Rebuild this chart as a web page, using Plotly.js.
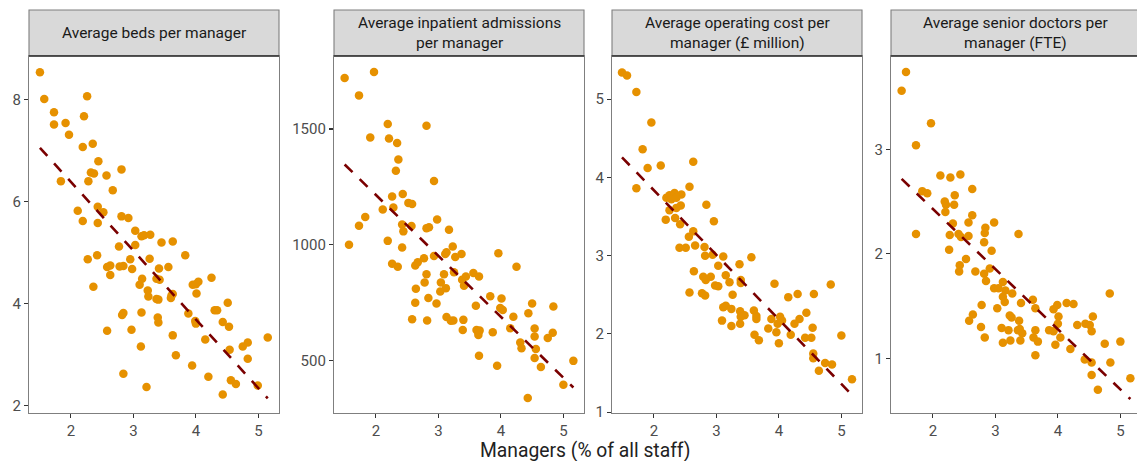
<!DOCTYPE html>
<html>
<head>
<meta charset="utf-8">
<script src="https://cdn.plot.ly/plotly-3.0.1.min.js"></script>
<style>
  html, body { margin: 0; padding: 0; overflow: hidden; background: #fff; }
  #chart { width: 1146px; height: 461px; }
</style>
</head>
<body>
<div id="chart"></div>
<script>
// ---------- Data ----------
const panelTitles = [
  "Average beds per manager",
  "Average inpatient admissions<br>per manager",
  "Average operating cost per<br>manager (£ million)",
  "Average senior doctors per<br>manager (FTE)"
];
const xTitle = "Managers (% of all staff)";
const xTicks = [2, 3, 4, 5];
const bedsTicks = [2, 4, 6, 8];
const admissionsTicks = [500, 1000, 1500];
const costTicks = [1, 2, 3, 4, 5];
const doctorsTicks = [1, 2, 3];

// Panel 1: average beds per manager
const bedsX = [1.505,1.574,1.73,1.73,1.915,1.97,2.26,2.21,2.19,2.35,2.44,2.32,2.37,2.57,1.84,2.28,2.81,2.67,2.11,2.19,
  2.43,2.52,2.43,2.81,2.92,3.03,3.13,3.17,3.27,3.45,3.63,2.77,3.03,3.83,2.27,2.42,2.58,2.63,2.78,2.84,
  2.95,2.98,2.63,3.26,3.41,3.56,3.14,3.10,3.37,3.42,3.23,3.24,3.37,3.40,3.61,3.63,3.60,2.36,4.00,4.04,
  4.01,4.25,3.95,4.51,4.30,4.34,2.84,2.82,3.13,3.39,3.40,3.88,3.99,4.00,4.43,4.53,2.58,2.97,3.63,4.15,
  5.15,4.83,4.75,3.12,4.54,3.68,4.83,3.94,2.84,4.20,4.56,4.64,4.99,3.21,4.43];
const bedsY = [8.53,8.01,7.75,7.51,7.54,7.31,8.06,7.67,7.07,7.13,6.79,6.57,6.55,6.51,6.40,6.40,6.63,6.22,5.82,5.62,
  5.90,5.79,5.58,5.71,5.68,5.43,5.32,5.34,5.35,5.20,5.22,5.12,5.15,4.95,4.87,4.95,4.72,4.75,4.73,4.74,
  4.87,4.68,4.56,4.88,4.69,4.72,4.49,4.37,4.49,4.47,4.26,4.14,4.09,4.08,4.16,4.19,4.11,4.33,4.38,4.43,
  4.20,4.51,4.37,4.02,3.87,3.87,3.82,3.78,3.83,3.73,3.63,3.81,3.66,3.61,3.64,3.55,3.47,3.49,3.38,3.30,
  3.34,3.24,3.16,3.16,3.10,2.99,2.92,2.79,2.63,2.57,2.50,2.43,2.40,2.37,2.22];

// Panel 2: average inpatient admissions per manager
const admissionsX = [1.50,1.97,1.73,2.19,2.81,1.91,2.21,2.34,2.36,2.32,2.93,2.26,2.43,2.52,2.58,2.11,2.28,1.83,1.73,2.98,
  2.42,2.57,2.81,2.85,3.17,2.44,1.57,2.19,2.42,2.26,2.35,2.63,2.67,2.77,2.93,3.11,3.13,3.23,3.27,3.37,
  3.96,4.25,2.81,3.09,3.25,3.38,3.44,3.56,3.65,3.41,2.78,3.04,3.12,3.03,2.64,2.84,2.63,2.97,3.83,4.01,
  3.60,3.99,4.03,4.50,4.84,4.44,4.20,2.58,2.82,3.13,3.20,3.24,3.40,3.39,3.61,3.64,3.66,3.64,3.87,4.15,
  4.54,4.54,4.83,4.75,4.31,4.33,4.56,4.54,4.64,3.65,3.94,5.00,5.16,4.43];
const admissionsY = [1720,1746,1645,1521,1514,1463,1459,1439,1368,1320,1275,1209,1219,1181,1176,1152,1161,1120,1082,1109,
  1088,1081,1072,1076,1065,1058,1000,1017,988,918,905,911,925,942,952,960,968,993,947,960,
  964,905,873,873,882,849,863,878,863,823,837,837,813,798,810,770,750,747,778,768,
  737,727,719,747,734,705,689,679,673,688,672,673,676,632,632,622,630,611,623,640,
  639,604,620,598,578,554,550,511,473,521,478,396,499,339];

// Panel 3: average operating cost per manager (£ million)
const costX = [1.49,1.57,1.72,1.96,1.82,1.90,2.11,2.63,1.72,2.57,2.20,2.25,2.33,2.44,2.28,2.36,2.84,2.43,2.25,2.36,
  2.19,2.34,2.96,2.42,2.63,2.56,2.41,2.51,2.66,2.81,2.82,2.94,3.11,3.37,3.56,3.03,2.64,3.15,2.79,2.91,
  2.83,3.21,3.39,3.39,2.98,3.03,3.93,4.83,2.57,2.77,2.82,3.26,4.15,4.30,4.56,3.11,3.15,3.24,3.38,3.60,
  3.45,3.39,3.64,3.64,3.09,3.38,3.24,3.88,4.02,4.05,3.98,4.33,4.25,4.44,4.54,3.83,3.96,3.61,3.68,4.19,
  4.42,4.52,5.00,4.00,4.55,4.55,4.74,4.85,4.64,5.17];
const costY = [5.34,5.30,5.09,4.70,4.36,4.12,4.15,4.20,3.86,3.88,3.74,3.77,3.80,3.78,3.72,3.74,3.65,3.64,3.58,3.61,
  3.46,3.48,3.44,3.40,3.31,3.24,3.10,3.10,3.13,3.11,3.00,3.01,2.99,2.89,2.98,2.87,2.80,2.75,2.73,2.73,
  2.69,2.66,2.69,2.65,2.62,2.61,2.64,2.63,2.53,2.52,2.49,2.50,2.47,2.51,2.51,2.34,2.36,2.32,2.29,2.30,
  2.24,2.22,2.23,2.19,2.17,2.13,2.10,2.19,2.22,2.17,2.13,2.19,2.13,2.27,2.08,2.07,2.02,1.99,1.92,1.99,
  1.95,1.95,1.98,1.88,1.75,1.69,1.63,1.61,1.53,1.42];

// Panel 4: average senior doctors per manager (FTE)
const doctorsX = [1.57,1.50,1.97,1.73,2.12,2.28,2.44,1.83,1.91,2.63,2.35,2.19,2.21,2.34,2.20,2.63,2.32,2.57,2.98,2.84,
  1.73,2.27,2.41,2.45,2.57,2.83,3.37,2.82,2.26,2.94,2.53,2.43,2.42,2.68,2.91,2.82,2.85,3.12,2.98,3.05,
  3.16,3.27,3.12,3.15,3.41,3.60,3.64,2.78,3.03,3.99,3.93,4.14,4.25,4.01,2.64,2.58,3.23,3.26,3.38,4.00,
  4.56,4.31,4.44,4.51,4.54,2.77,3.10,3.21,3.36,3.39,3.43,3.64,3.86,3.93,3.61,3.68,2.83,3.12,3.24,3.40,
  4.04,3.96,4.20,3.64,4.43,4.54,4.84,4.75,5.00,4.83,4.54,4.64,5.16];
const doctorsY = [3.74,3.56,3.25,3.04,2.75,2.73,2.76,2.60,2.58,2.62,2.56,2.50,2.47,2.47,2.40,2.37,2.29,2.30,2.30,2.25,
  2.19,2.18,2.19,2.16,2.17,2.20,2.19,2.11,2.04,2.03,1.95,1.89,1.83,1.83,1.86,1.81,1.74,1.73,1.67,1.67,
  1.65,1.62,1.59,1.54,1.53,1.56,1.48,1.51,1.48,1.51,1.47,1.53,1.52,1.40,1.42,1.36,1.41,1.39,1.36,1.33,
  1.40,1.32,1.33,1.32,1.26,1.30,1.29,1.27,1.27,1.28,1.24,1.27,1.27,1.26,1.20,1.16,1.20,1.15,1.17,1.17,
  1.20,1.13,1.09,1.03,0.99,0.96,0.96,1.14,1.16,1.62,0.84,0.70,0.81];

// ---------- Layout geometry ----------
const W = 1146, H = 461;
const M = {l: 29, r: 5, t: 10, b: 48};
const plotW = W - M.l - M.r, plotH = H - M.t - M.b;
const panelPx = [[29, 279], [334, 584], [612, 862], [891, 1141]];
const panelTopPx = 56, panelBottomPx = 413;
const yTop = (panelBottomPx - panelTopPx) / plotH;   // paper y of panel top / strip bottom
const xRange = [1.33, 5.33];
const yRanges = [[1.86, 8.85], [274, 1815], [0.99, 5.55], [0.477, 3.893]];

const series = [
  {x: bedsX, y: bedsY, ticks: bedsTicks},
  {x: admissionsX, y: admissionsY, ticks: admissionsTicks},
  {x: costX, y: costY, ticks: costTicks},
  {x: doctorsX, y: doctorsY, ticks: doctorsTicks}
];

function linearFit(xs, ys) {
  const n = xs.length;
  let sx = 0, sy = 0;
  for (let i = 0; i < n; i++) { sx += xs[i]; sy += ys[i]; }
  const mx = sx / n, my = sy / n;
  let sxy = 0, sxx = 0;
  for (let i = 0; i < n; i++) { sxy += (xs[i]-mx)*(ys[i]-my); sxx += (xs[i]-mx)*(xs[i]-mx); }
  const b = sxy / sxx, a = my - b * mx;
  const x0 = Math.min(...xs), x1 = Math.max(...xs);
  return {x: [x0, x1], y: [a + b*x0, a + b*x1]};
}

const pointColor = "#E69100";
const lineColor = "#7A0000";
const tickFont = {family: "Roboto, sans-serif", size: 15, color: "#4D4D4D"};
const borderColor = "#7F7F7F";

const traces = [];
const layout = {
  width: W, height: H, margin: M,
  paper_bgcolor: "#fff", plot_bgcolor: "#fff",
  showlegend: false,
  font: {family: "Roboto, sans-serif"},
  shapes: [], annotations: []
};

series.forEach((s, i) => {
  const k = i === 0 ? "" : String(i + 1);
  const xa = "x" + k, ya = "y" + k;
  traces.push({
    type: "scatter", mode: "markers", x: s.x, y: s.y, xaxis: xa, yaxis: ya,
    marker: {color: pointColor, size: 8.5, line: {width: 0}},
    hoverinfo: "skip"
  });
  const fit = linearFit(s.x, s.y);
  traces.push({
    type: "scatter", mode: "lines", x: fit.x, y: fit.y, xaxis: xa, yaxis: ya,
    line: {color: lineColor, width: 2.6, dash: "11px,10px"},
    hoverinfo: "skip"
  });
  const d0 = (panelPx[i][0] - M.l) / plotW, d1 = (panelPx[i][1] - M.l) / plotW;
  layout["xaxis" + k] = {
    domain: [d0, d1], range: xRange, anchor: ya,
    tickvals: xTicks, ticktext: xTicks.map(String),
    ticks: "outside", ticklen: 4, tickwidth: 1.1, tickcolor: "#333",
    showline: true, linecolor: borderColor, linewidth: 1.1, mirror: true,
    showgrid: false, zeroline: false, tickfont: tickFont, fixedrange: true
  };
  layout["yaxis" + k] = {
    domain: [0, yTop], range: yRanges[i], anchor: xa,
    tickvals: s.ticks, ticktext: s.ticks.map(String),
    ticks: "outside", ticklen: 4, tickwidth: 1.1, tickcolor: "#333",
    showline: true, linecolor: borderColor, linewidth: 1.1, mirror: true,
    showgrid: false, zeroline: false, tickfont: tickFont, fixedrange: true
  };
  // strip
  layout.shapes.push({
    type: "rect", xref: "paper", yref: "paper", x0: d0, x1: d1, y0: yTop, y1: 1,
    fillcolor: "#D9D9D9", line: {color: borderColor, width: 1.1}, layer: "below"
  });
  layout.shapes.push({
    type: "line", xref: "paper", yref: "paper", x0: d0, x1: d1, y0: yTop, y1: yTop,
    line: {color: "#333", width: 1.6}
  });
  layout.annotations.push({
    xref: "paper", yref: "paper", x: (d0 + d1) / 2, y: (yTop + 1) / 2,
    xanchor: "center", yanchor: "middle", showarrow: false,
    text: panelTitles[i],
    font: {family: "Roboto, sans-serif", size: 15.5, color: "#1A1A1A"}
  });
});

layout.annotations.push({
  xref: "paper", yref: "paper", x: 0.5, y: (panelBottomPx - 450) / plotH,
  xanchor: "center", yanchor: "middle", showarrow: false,
  text: xTitle,
  font: {family: "Roboto, sans-serif", size: 19.3, color: "#222"}
});

Plotly.newPlot("chart", traces, layout, {displayModeBar: false, staticPlot: true});
</script>
</body>
</html>
